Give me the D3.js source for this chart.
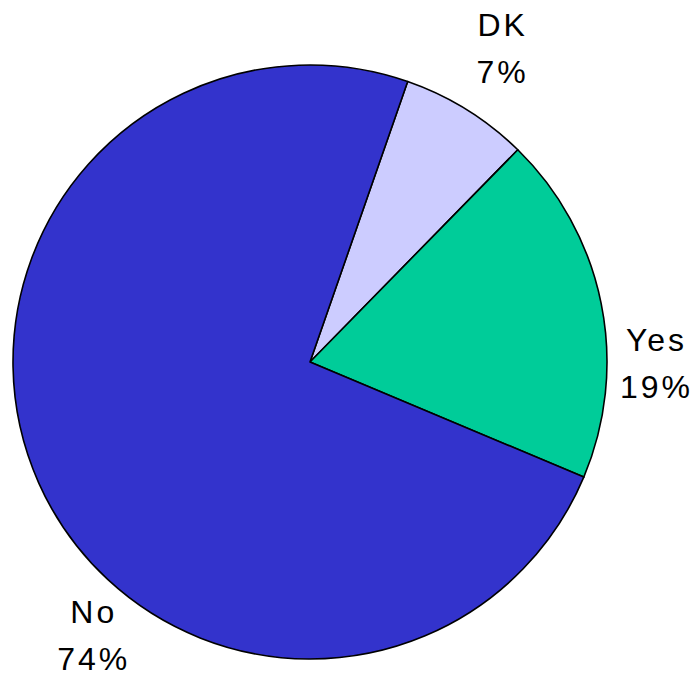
<!DOCTYPE html>
<html>
<head>
<meta charset="utf-8">
<script src="https://cdn.jsdelivr.net/npm/d3@7/dist/d3.min.js"></script>
<style>
  html, body { margin: 0; padding: 0; background: #ffffff; }
  svg { display: block; }
  text { font-family: "Liberation Sans", Arial, sans-serif; }
</style>
</head>
<body>
<svg id="chart" width="694" height="675"></svg>
<script>
// Survey answers, in drawing order going clockwise
const categories = ["DK", "Yes", "No"];
const values = [7, 19, 74];
const colors = ["#CCCCFF", "#00CC99", "#3333CC"];

// Layout
const width = 694, height = 675;
const cx = 310, cy = 362, radius = 297;
const firstSliceAngle = 19.2; // degrees clockwise from 12 o'clock
// Label placement: direction (degrees clockwise from 12 o'clock) and distance from centre
const labelPlacement = {
  DK:  { angle: 31.3,  dist: 368 },
  Yes: { angle: 90.2,  dist: 345 },
  No:  { angle: 218.6, dist: 349 }
};

const svg = d3.select("#chart");
const g = svg.append("g").attr("transform", `translate(${cx},${cy})`);

const data = categories.map((c, i) => ({ category: c, value: values[i], color: colors[i] }));
const start = firstSliceAngle * Math.PI / 180;

const pie = d3.pie()
  .value(d => d.value)
  .sort(null)
  .startAngle(start)
  .endAngle(start + 2 * Math.PI);

const arc = d3.arc().innerRadius(0).outerRadius(radius);

const arcs = pie(data);

g.selectAll("path.slice")
  .data(arcs)
  .join("path")
  .attr("class", "slice")
  .attr("d", arc)
  .attr("fill", d => d.data.color)
  .attr("stroke", "#000")
  .attr("stroke-width", 1.6)
  .attr("stroke-linejoin", "round");

const fontSize = 32;
const spacing = 3;
const labels = g.selectAll("g.label")
  .data(arcs)
  .join("g")
  .attr("class", "label")
  .attr("transform", d => {
    const p = labelPlacement[d.data.category];
    const a = p.angle * Math.PI / 180;
    return `translate(${Math.sin(a) * p.dist + spacing / 2},${-Math.cos(a) * p.dist})`;
  });

labels.append("text")
  .attr("text-anchor", "middle")
  .attr("y", -12)
  .attr("font-size", fontSize)
  .attr("letter-spacing", spacing)
  .attr("fill", "#000")
  .text(d => d.data.category);

labels.append("text")
  .attr("text-anchor", "middle")
  .attr("y", 35)
  .attr("font-size", fontSize)
  .attr("letter-spacing", spacing)
  .attr("fill", "#000")
  .text(d => Math.round(d.data.value / d3.sum(values) * 100) + "%");
</script>
</body>
</html>
